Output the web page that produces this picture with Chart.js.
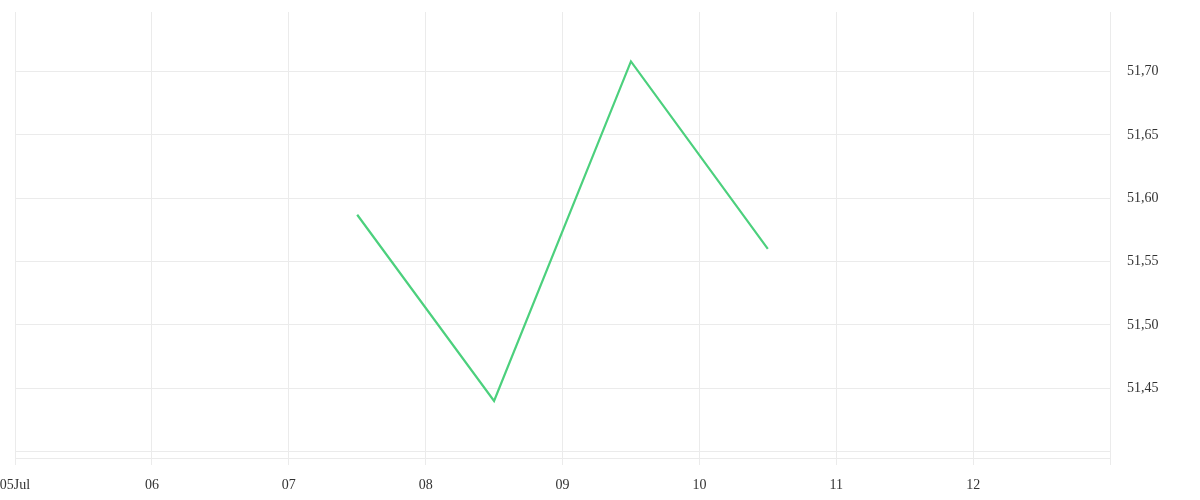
<!DOCTYPE html>
<html>
<head>
<meta charset="UTF-8">
<title>Line chart</title>
<script src="https://cdn.jsdelivr.net/npm/chart.js"></script>
<style>
    html, body { margin: 0; padding: 0; background: #fff; }
    .wrap { width: 1200px; height: 500px; position: relative; }
</style>
</head>
<body>
<div class="wrap"><canvas id="chart"></canvas></div>
<script>
// days are counted from 05 Jul (0 = 05Jul)
const dayTicks = [0, 1, 2, 3, 4, 5, 6, 7, 8];
const dayLabels = ['05Jul', '06', '07', '08', '09', '10', '11', '12', ''];
const pointDays = [2.5, 3.5, 4.5, 5.5];
const values = [51.587, 51.440, 51.708, 51.560];
const yTicks = [51.40, 51.45, 51.50, 51.55, 51.60, 51.65, 51.70];
const yLabels = ['', '51,45', '51,50', '51,55', '51,60', '51,65', '51,70'];

const font = { family: '"Liberation Serif", serif', size: 14 };

new Chart(document.getElementById('chart'), {
    type: 'line',
    data: {
        datasets: [{
            data: pointDays.map((d, i) => ({ x: d, y: values[i] })),
            borderColor: '#4cd07d',
            borderWidth: 2.2,
            pointRadius: 0,
            tension: 0,
            fill: false
        }]
    },
    options: {
        responsive: true,
        maintainAspectRatio: false,
        animation: false,
        layout: { padding: { left: 15, top: 12, right: 0, bottom: 0 } },
        plugins: { legend: { display: false }, tooltip: { enabled: false } },
        scales: {
            x: {
                type: 'linear',
                min: 0,
                max: 8,
                afterBuildTicks: s => { s.ticks = dayTicks.map(v => ({ value: v })); },
                afterFit: s => {
                    s.height = 42;
                    s.paddingLeft = 0;
                    s.paddingRight = 0;
                },
                ticks: {
                    autoSkip: false,
                    maxRotation: 0,
                    color: '#333',
                    font: font,
                    padding: 12,
                    callback: (v, i) => dayLabels[i]
                },
                grid: { color: '#ebebeb', tickLength: 7 },
                border: { display: true, color: '#ebebeb' }
            },
            y: {
                position: 'right',
                min: 51.395,
                max: 51.747,
                afterBuildTicks: s => { s.ticks = yTicks.map(v => ({ value: v })); },
                afterFit: s => {
                    s.width = 90;
                    s.paddingTop = 0;
                    s.paddingBottom = 0;
                },
                ticks: {
                    color: '#333',
                    font: font,
                    padding: 17,
                    callback: (v, i) => yLabels[i]
                },
                grid: { color: '#ebebeb', drawTicks: false },
                border: { color: '#ebebeb' }
            }
        }
    }
});
</script>
</body>
</html>
